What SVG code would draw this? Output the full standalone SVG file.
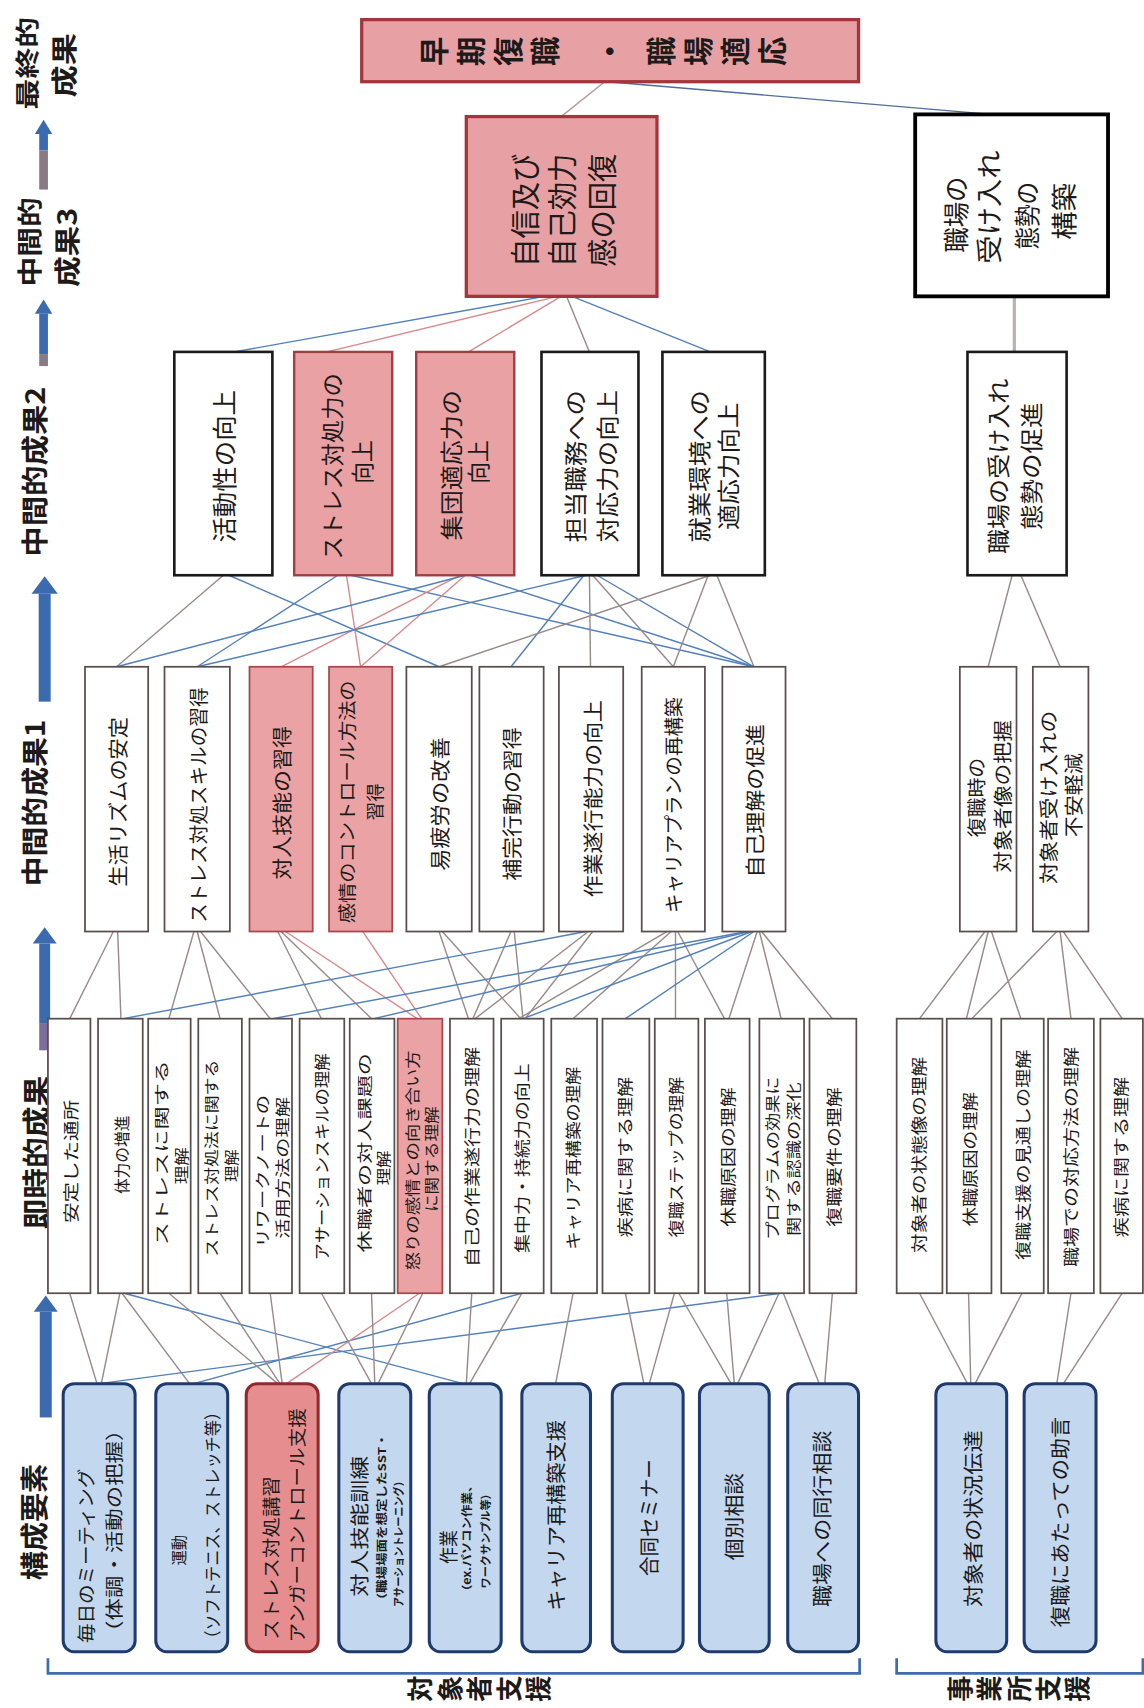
<svg xmlns="http://www.w3.org/2000/svg" width="1144" height="1708" viewBox="0 0 1144 1708">
<style>
.v{font-family:"Noto Sans CJK JP","Noto Sans CJK SC",sans-serif;text-anchor:middle;dominant-baseline:central;fill:#1e1a1a}
.b{font-weight:bold}
.vt{font-family:"Noto Sans CJK JP","Noto Sans CJK SC",sans-serif;writing-mode:vertical-rl;font-weight:bold;fill:#1e1a1a}
.w1{fill:#fff;stroke:#594d4d;stroke-width:1.6}
.w2{fill:#fff;stroke:#1a1a1a;stroke-width:2.4}
.w3{fill:#fff;stroke:#000;stroke-width:3.5}
.p1{fill:#eaa2a4;stroke:#a8464b;stroke-width:1.6}
.p2{fill:#e9a1a3;stroke:#a03f44;stroke-width:2.2}
.p3{fill:#e7a1a4;stroke:#a3353c;stroke-width:3}
.c{fill:#c3d8ef;stroke:#1f3b6e;stroke-width:2.8}
.cp{fill:#e68e8f;stroke:#8e2b2e;stroke-width:2.8}
#conn line{stroke-width:1.3;fill:none}
.g{stroke:#988a8a}
.bl{stroke:#5280ba}
.pk{stroke:#d8898d}
.ab{fill:#3c6aae}
.ag{fill:#8a7a82}
.br{fill:none;stroke:#3b6db0;stroke-width:2.5}
</style>
<rect width="1144" height="1708" fill="#fff"/>
<g transform="scale(1.0895)">
<g id="labels">
<text class="v b" font-size="22" textLength="85" lengthAdjust="spacingAndGlyphs" transform="translate(23 58) rotate(-90)">最終的</text>
<text class="v b" font-size="24" textLength="59" lengthAdjust="spacingAndGlyphs" transform="translate(58 60) rotate(-90)">成果</text>
<text class="v b" font-size="23" textLength="82" lengthAdjust="spacingAndGlyphs" transform="translate(26 222) rotate(-90)">中間的</text>
<text class="v b" font-size="24" textLength="73" lengthAdjust="spacingAndGlyphs" transform="translate(61 227) rotate(-90)">成果3</text>
<text class="v b" font-size="25" textLength="156" lengthAdjust="spacingAndGlyphs" transform="translate(30 433) rotate(-90)">中間的成果2</text>
<text class="v b" font-size="25" textLength="153" lengthAdjust="spacingAndGlyphs" transform="translate(30 737) rotate(-90)">中間的成果1</text>
<text class="v b" font-size="26" textLength="141" lengthAdjust="spacingAndGlyphs" transform="translate(32 1058) rotate(-90)">即時的成果</text>
<text class="v b" font-size="26" textLength="107" lengthAdjust="spacingAndGlyphs" transform="translate(30 1397) rotate(-90)">構成要素</text>
<text class="vt" font-size="24" letter-spacing="3" transform="translate(0 1550) rotate(-90)" x="0" y="374">対象者支援</text>
<text class="vt" font-size="24" letter-spacing="3" transform="translate(0 1550) rotate(-90)" x="0" y="869">事業所支援</text>
</g>
<g id="arrows">
<polygon class="ab" points="40,110 48,123 32,123"/><rect class="ab" x="36" y="123" width="8" height="15"/><rect class="ag" x="36" y="138" width="8" height="36"/>
<polygon class="ab" points="40,275 48,288 32,288"/><rect class="ab" x="36" y="288" width="8" height="37"/><rect class="ag" x="36" y="325" width="8" height="11"/>
<polygon class="ab" points="41,529 53,545 29,545"/><rect class="ab" x="35.5" y="545" width="11" height="99"/>
<polygon class="ab" points="41,851 52,866 30,866"/><rect class="ab" x="36" y="866" width="10" height="73"/><rect fill="#7d6d9c" x="36" y="939" width="10" height="25"/>
<polygon class="ab" points="42,1189 53,1204 31,1204"/><rect class="ab" x="36.5" y="1204" width="11" height="97"/>
<path class="br" d="M44,1522V1536H789V1522"/>
<path class="br" d="M823,1522V1536H1049V1522"/>
</g>
<g id="conn">
<line class="g" x1="555" y1="75" x2="515" y2="107" style="stroke:#b89a9a"/>
<line class="bl" x1="558" y1="75" x2="910" y2="105" style="stroke:#4f6e9a"/>
<line x1="931" y1="272" x2="931" y2="323" style="stroke:#bcb2b2;stroke-width:3"/>
<line class="bl" x1="500" y1="272" x2="215" y2="323"/>
<line class="pk" x1="512" y1="272" x2="300" y2="323"/>
<line class="pk" x1="515" y1="272" x2="430" y2="323"/>
<line class="g" x1="520" y1="272" x2="541" y2="323"/>
<line class="bl" x1="525" y1="272" x2="652" y2="323"/>
<line class="g" x1="205" y1="528" x2="107" y2="612"/>
<line class="bl" x1="210" y1="528" x2="403" y2="612"/>
<line class="bl" x1="310" y1="528" x2="181" y2="612"/>
<line class="pk" x1="318" y1="528" x2="331" y2="612"/>
<line class="bl" x1="322" y1="528" x2="692" y2="612"/>
<line class="pk" x1="422" y1="528" x2="258" y2="612"/>
<line class="pk" x1="427" y1="528" x2="331" y2="612"/>
<line class="bl" x1="432" y1="528" x2="692" y2="612"/>
<line class="bl" x1="536" y1="528" x2="469" y2="612"/>
<line class="g" x1="541" y1="528" x2="542" y2="612"/>
<line class="g" x1="544" y1="528" x2="618" y2="612"/>
<line class="bl" x1="548" y1="528" x2="692" y2="612"/>
<line class="g" x1="650" y1="528" x2="618" y2="612"/>
<line class="g" x1="658" y1="528" x2="692" y2="612"/>
<line class="g" x1="652" y1="528" x2="403" y2="612"/>
<line class="bl" x1="107" y1="612" x2="427" y2="528"/>
<line class="bl" x1="181" y1="612" x2="538" y2="528"/>
<line class="g" x1="929" y1="528" x2="907" y2="612"/>
<line class="g" x1="937" y1="528" x2="973" y2="612"/>
<line class="g" x1="104" y1="855" x2="64" y2="935"/>
<line class="g" x1="108" y1="855" x2="111" y2="935"/>
<line class="g" x1="178" y1="855" x2="155" y2="935"/>
<line class="g" x1="181" y1="855" x2="202" y2="935"/>
<line class="g" x1="184" y1="855" x2="248" y2="935"/>
<line class="g" x1="255" y1="855" x2="295" y2="935"/>
<line class="g" x1="258" y1="855" x2="341" y2="935"/>
<line class="pk" x1="262" y1="855" x2="383" y2="935"/>
<line class="pk" x1="333" y1="855" x2="387" y2="935"/>
<line class="g" x1="403" y1="855" x2="430" y2="935"/>
<line class="g" x1="406" y1="855" x2="478" y2="935"/>
<line class="g" x1="469" y1="855" x2="434" y2="935"/>
<line class="g" x1="472" y1="855" x2="480" y2="935"/>
<line class="g" x1="540" y1="855" x2="436" y2="935"/>
<line class="g" x1="544" y1="855" x2="482" y2="935"/>
<line class="bl" x1="538" y1="855" x2="113" y2="935"/>
<line class="g" x1="612" y1="855" x2="476" y2="935"/>
<line class="g" x1="616" y1="855" x2="526" y2="935"/>
<line class="g" x1="620" y1="855" x2="620" y2="935"/>
<line class="g" x1="622" y1="855" x2="665" y2="935"/>
<line class="bl" x1="686" y1="855" x2="250" y2="935"/>
<line class="bl" x1="688" y1="855" x2="343" y2="935"/>
<line class="bl" x1="690" y1="855" x2="480" y2="935"/>
<line class="bl" x1="692" y1="855" x2="574" y2="935"/>
<line class="g" x1="695" y1="855" x2="669" y2="935"/>
<line class="g" x1="697" y1="855" x2="717" y2="935"/>
<line class="g" x1="699" y1="855" x2="764" y2="935"/>
<line class="g" x1="904" y1="855" x2="844" y2="935"/>
<line class="g" x1="907" y1="855" x2="887" y2="935"/>
<line class="g" x1="910" y1="855" x2="937" y2="935"/>
<line class="g" x1="970" y1="855" x2="892" y2="935"/>
<line class="g" x1="973" y1="855" x2="983" y2="935"/>
<line class="g" x1="976" y1="855" x2="1030" y2="935"/>
<line class="g" x1="64" y1="1187" x2="89" y2="1270"/>
<line class="g" x1="110" y1="1187" x2="93" y2="1270"/>
<line class="g" x1="112" y1="1187" x2="174" y2="1270"/>
<line class="bl" x1="114" y1="1187" x2="425" y2="1270"/>
<line class="bl" x1="479" y1="1187" x2="178" y2="1270"/>
<line class="bl" x1="91" y1="1270" x2="717" y2="1187"/>
<line class="g" x1="155" y1="1187" x2="255" y2="1270"/>
<line class="g" x1="202" y1="1187" x2="257" y2="1270"/>
<line class="g" x1="248" y1="1187" x2="259" y2="1270"/>
<line class="pk" x1="385" y1="1187" x2="263" y2="1270"/>
<line class="g" x1="295" y1="1187" x2="341" y2="1270"/>
<line class="g" x1="341" y1="1187" x2="344" y2="1270"/>
<line class="g" x1="388" y1="1187" x2="347" y2="1270"/>
<line class="g" x1="433" y1="1187" x2="428" y2="1270"/>
<line class="g" x1="479" y1="1187" x2="431" y2="1270"/>
<line class="g" x1="526" y1="1187" x2="510" y2="1270"/>
<line class="g" x1="574" y1="1187" x2="591" y2="1270"/>
<line class="g" x1="619" y1="1187" x2="596" y2="1270"/>
<line class="g" x1="623" y1="1187" x2="671" y2="1270"/>
<line class="g" x1="667" y1="1187" x2="674" y2="1270"/>
<line class="g" x1="715" y1="1187" x2="677" y2="1270"/>
<line class="g" x1="719" y1="1187" x2="752" y2="1270"/>
<line class="g" x1="764" y1="1187" x2="757" y2="1270"/>
<line class="g" x1="844" y1="1187" x2="888" y2="1270"/>
<line class="g" x1="889" y1="1187" x2="891" y2="1270"/>
<line class="g" x1="938" y1="1187" x2="895" y2="1270"/>
<line class="g" x1="983" y1="1187" x2="970" y2="1270"/>
<line class="g" x1="1030" y1="1187" x2="976" y2="1270"/>
</g>
<g id="final"><rect class="p3" x="332" y="18" width="456" height="57"/>
<text class="vt" font-size="27" letter-spacing="7" transform="translate(0 47) rotate(-90)" x="0"><tspan x="0" y="385">早期復職</tspan><tspan x="0" y="546">・</tspan><tspan x="0" y="593">職場適応</tspan></text></g>
<g id="t1"><rect class="p3" x="428" y="107" width="175" height="165"/>
<text class="v" font-size="27" textLength="104" lengthAdjust="spacingAndGlyphs" transform="translate(480 193) rotate(-90)">自信及び</text>
<text class="v" font-size="27" textLength="104" lengthAdjust="spacingAndGlyphs" transform="translate(514 193) rotate(-90)">自己効力</text>
<text class="v" font-size="27" textLength="104" lengthAdjust="spacingAndGlyphs" transform="translate(551 193) rotate(-90)">感の回復</text></g>
<g id="t2"><rect class="w3" x="840" y="105" width="177" height="167"/>
<text class="v" font-size="24" textLength="70" lengthAdjust="spacingAndGlyphs" transform="translate(877 197) rotate(-90)">職場の</text>
<text class="v" font-size="24" textLength="104" lengthAdjust="spacingAndGlyphs" transform="translate(907 190) rotate(-90)">受け入れ</text>
<text class="v" font-size="24" textLength="62" lengthAdjust="spacingAndGlyphs" transform="translate(942 198) rotate(-90)">態勢の</text>
<text class="v" font-size="24" textLength="52" lengthAdjust="spacingAndGlyphs" transform="translate(976 194) rotate(-90)">構築</text></g>
<g id="n1"><rect class="w2" x="160" y="323" width="90" height="205"/>
<text class="v" font-size="23" textLength="140" lengthAdjust="spacingAndGlyphs" transform="translate(205 428) rotate(-90)">活動性の向上</text></g>
<g id="n2"><rect class="p2" x="270" y="323" width="90" height="205"/>
<text class="v" font-size="21" textLength="171" lengthAdjust="spacingAndGlyphs" transform="translate(304 428) rotate(-90)">ストレス対処力の</text>
<text class="v" font-size="21" textLength="40" lengthAdjust="spacingAndGlyphs" transform="translate(331 424) rotate(-90)">向上</text></g>
<g id="n3"><rect class="p2" x="382" y="323" width="90" height="205"/>
<text class="v" font-size="21" textLength="138" lengthAdjust="spacingAndGlyphs" transform="translate(413 427) rotate(-90)">集団適応力の</text>
<text class="v" font-size="21" textLength="40" lengthAdjust="spacingAndGlyphs" transform="translate(438 424) rotate(-90)">向上</text></g>
<g id="n4"><rect class="w2" x="497" y="323" width="89" height="205"/>
<text class="v" font-size="21" textLength="140" lengthAdjust="spacingAndGlyphs" transform="translate(527 428) rotate(-90)">担当職務への</text>
<text class="v" font-size="21" textLength="140" lengthAdjust="spacingAndGlyphs" transform="translate(556 428) rotate(-90)">対応力の向上</text></g>
<g id="n5"><rect class="w2" x="608" y="323" width="94" height="205"/>
<text class="v" font-size="21" textLength="140" lengthAdjust="spacingAndGlyphs" transform="translate(641 428) rotate(-90)">就業環境への</text>
<text class="v" font-size="21" textLength="117" lengthAdjust="spacingAndGlyphs" transform="translate(667 428) rotate(-90)">適応力向上</text></g>
<g id="n6"><rect class="w2" x="888" y="323" width="91" height="205"/>
<text class="v" font-size="21" textLength="161" lengthAdjust="spacingAndGlyphs" transform="translate(915 428) rotate(-90)">職場の受け入れ</text>
<text class="v" font-size="21" textLength="117" lengthAdjust="spacingAndGlyphs" transform="translate(945 428) rotate(-90)">態勢の促進</text></g>
<g id="m1"><rect class="w1" x="78" y="612" width="58" height="243"/>
<text class="v" font-size="19" textLength="156" lengthAdjust="spacingAndGlyphs" transform="translate(107 736) rotate(-90)">生活リズムの安定</text></g>
<g id="m2"><rect class="w1" x="151" y="612" width="60" height="243"/>
<text class="v" font-size="18" textLength="216" lengthAdjust="spacingAndGlyphs" transform="translate(181 739) rotate(-90)">ストレス対処スキルの習得</text></g>
<g id="m3"><rect class="p1" x="229" y="612" width="58" height="243"/>
<text class="v" font-size="19" textLength="141" lengthAdjust="spacingAndGlyphs" transform="translate(258 737) rotate(-90)">対人技能の習得</text></g>
<g id="m4"><rect class="p1" x="302" y="612" width="58" height="243"/>
<text class="v" font-size="17" textLength="223" lengthAdjust="spacingAndGlyphs" transform="translate(318 736) rotate(-90)">感情のコントロール方法の</text>
<text class="v" font-size="17" textLength="34" lengthAdjust="spacingAndGlyphs" transform="translate(343 736) rotate(-90)">習得</text></g>
<g id="m5"><rect class="w1" x="373" y="612" width="60" height="243"/>
<text class="v" font-size="19" textLength="123" lengthAdjust="spacingAndGlyphs" transform="translate(403 738) rotate(-90)">易疲労の改善</text></g>
<g id="m6"><rect class="w1" x="440" y="612" width="59" height="243"/>
<text class="v" font-size="19" textLength="141" lengthAdjust="spacingAndGlyphs" transform="translate(469 738) rotate(-90)">補完行動の習得</text></g>
<g id="m7"><rect class="w1" x="513" y="612" width="59" height="243"/>
<text class="v" font-size="19" textLength="181" lengthAdjust="spacingAndGlyphs" transform="translate(543 733) rotate(-90)">作業遂行能力の向上</text></g>
<g id="m8"><rect class="w1" x="589" y="612" width="58" height="243"/>
<text class="v" font-size="18" textLength="198" lengthAdjust="spacingAndGlyphs" transform="translate(617 739) rotate(-90)">キャリアプランの再構築</text></g>
<g id="m9"><rect class="w1" x="663" y="612" width="58" height="243"/>
<text class="v" font-size="19" textLength="141" lengthAdjust="spacingAndGlyphs" transform="translate(692 735) rotate(-90)">自己理解の促進</text></g>
<g id="m10"><rect class="w1" x="881" y="612" width="52" height="243"/>
<text class="v" font-size="18" textLength="73" lengthAdjust="spacingAndGlyphs" transform="translate(895 732) rotate(-90)">復職時の</text>
<text class="v" font-size="18" textLength="140" lengthAdjust="spacingAndGlyphs" transform="translate(919 731) rotate(-90)">対象者像の把握</text></g>
<g id="m11"><rect class="w1" x="948" y="612" width="51" height="243"/>
<text class="v" font-size="18" textLength="159" lengthAdjust="spacingAndGlyphs" transform="translate(961 732) rotate(-90)">対象者受け入れの</text>
<text class="v" font-size="18" textLength="77" lengthAdjust="spacingAndGlyphs" transform="translate(984 730) rotate(-90)">不安軽減</text></g>
<g id="i1"><rect class="w1" x="44" y="935" width="39" height="252"/>
<text class="v" font-size="15" textLength="113" lengthAdjust="spacingAndGlyphs" transform="translate(64 1066) rotate(-90)">安定した通所</text></g>
<g id="i2"><rect class="w1" x="90" y="935" width="41" height="252"/>
<text class="v" font-size="15" textLength="72" lengthAdjust="spacingAndGlyphs" transform="translate(111 1060) rotate(-90)">体力の増進</text></g>
<g id="i3"><rect class="w1" x="136" y="935" width="39" height="252"/>
<text class="v" font-size="14" textLength="170" lengthAdjust="spacingAndGlyphs" transform="translate(147 1058) rotate(-90)">ストレスに関する</text>
<text class="v" font-size="14" textLength="34" lengthAdjust="spacingAndGlyphs" transform="translate(165 1070) rotate(-90)">理解</text></g>
<g id="i4"><rect class="w1" x="182" y="935" width="40" height="252"/>
<text class="v" font-size="14" textLength="181" lengthAdjust="spacingAndGlyphs" transform="translate(193 1063) rotate(-90)">ストレス対処法に関する</text>
<text class="v" font-size="14" textLength="30" lengthAdjust="spacingAndGlyphs" transform="translate(211 1070) rotate(-90)">理解</text></g>
<g id="i5"><rect class="w1" x="229" y="935" width="39" height="252"/>
<text class="v" font-size="14" textLength="140" lengthAdjust="spacingAndGlyphs" transform="translate(240 1075) rotate(-90)">リワークノートの</text>
<text class="v" font-size="14" textLength="130" lengthAdjust="spacingAndGlyphs" transform="translate(258 1072) rotate(-90)">活用方法の理解</text></g>
<g id="i6"><rect class="w1" x="275" y="935" width="41" height="252"/>
<text class="v" font-size="15" textLength="190" lengthAdjust="spacingAndGlyphs" transform="translate(295 1062) rotate(-90)">アサーションスキルの理解</text></g>
<g id="i7"><rect class="w1" x="321" y="935" width="41" height="252"/>
<text class="v" font-size="14" textLength="183" lengthAdjust="spacingAndGlyphs" transform="translate(333 1058) rotate(-90)">休職者の対人課題の</text>
<text class="v" font-size="14" textLength="32" lengthAdjust="spacingAndGlyphs" transform="translate(351 1072) rotate(-90)">理解</text></g>
<g id="i8"><rect class="p1" x="365" y="935" width="41" height="252"/>
<text class="v" font-size="14" textLength="202" lengthAdjust="spacingAndGlyphs" transform="translate(377 1065) rotate(-90)">怒りの感情との向き合い方</text>
<text class="v" font-size="14" textLength="97" lengthAdjust="spacingAndGlyphs" transform="translate(395 1064) rotate(-90)">に関する理解</text></g>
<g id="i9"><rect class="w1" x="413" y="935" width="40" height="252"/>
<text class="v" font-size="15" textLength="202" lengthAdjust="spacingAndGlyphs" transform="translate(432 1062) rotate(-90)">自己の作業遂行力の理解</text></g>
<g id="i10"><rect class="w1" x="460" y="935" width="39" height="252"/>
<text class="v" font-size="15" textLength="174" lengthAdjust="spacingAndGlyphs" transform="translate(478 1063) rotate(-90)">集中力・持続力の向上</text></g>
<g id="i11"><rect class="w1" x="506" y="935" width="42" height="252"/>
<text class="v" font-size="15" textLength="168" lengthAdjust="spacingAndGlyphs" transform="translate(525 1063) rotate(-90)">キャリア再構築の理解</text></g>
<g id="i12"><rect class="w1" x="553" y="935" width="43" height="252"/>
<text class="v" font-size="15" textLength="147" lengthAdjust="spacingAndGlyphs" transform="translate(573 1062) rotate(-90)">疾病に関する理解</text></g>
<g id="i13"><rect class="w1" x="601" y="935" width="40" height="252"/>
<text class="v" font-size="15" textLength="147" lengthAdjust="spacingAndGlyphs" transform="translate(620 1062) rotate(-90)">復職ステップの理解</text></g>
<g id="i14"><rect class="w1" x="647" y="935" width="41" height="252"/>
<text class="v" font-size="15" textLength="128" lengthAdjust="spacingAndGlyphs" transform="translate(667 1062) rotate(-90)">休職原因の理解</text></g>
<g id="i15"><rect class="w1" x="697" y="935" width="41" height="252"/>
<text class="v" font-size="14" textLength="150" lengthAdjust="spacingAndGlyphs" transform="translate(708 1063) rotate(-90)">プログラムの効果に</text>
<text class="v" font-size="14" textLength="141" lengthAdjust="spacingAndGlyphs" transform="translate(727 1064) rotate(-90)">関する認識の深化</text></g>
<g id="i16"><rect class="w1" x="743" y="935" width="43" height="252"/>
<text class="v" font-size="15" textLength="128" lengthAdjust="spacingAndGlyphs" transform="translate(765 1062) rotate(-90)">復職要件の理解</text></g>
<g id="i17"><rect class="w1" x="823" y="935" width="42" height="252"/>
<text class="v" font-size="15" textLength="180" lengthAdjust="spacingAndGlyphs" transform="translate(843 1060) rotate(-90)">対象者の状態像の理解</text></g>
<g id="i18"><rect class="w1" x="869" y="935" width="41" height="252"/>
<text class="v" font-size="15" textLength="123" lengthAdjust="spacingAndGlyphs" transform="translate(889 1064) rotate(-90)">休職原因の理解</text></g>
<g id="i19"><rect class="w1" x="919" y="935" width="39" height="252"/>
<text class="v" font-size="15" textLength="193" lengthAdjust="spacingAndGlyphs" transform="translate(938 1060) rotate(-90)">復職支援の見通しの理解</text></g>
<g id="i20"><rect class="w1" x="962" y="935" width="42" height="252"/>
<text class="v" font-size="15" textLength="202" lengthAdjust="spacingAndGlyphs" transform="translate(982 1062) rotate(-90)">職場での対応方法の理解</text></g>
<g id="i21"><rect class="w1" x="1010" y="935" width="39" height="252"/>
<text class="v" font-size="15" textLength="147" lengthAdjust="spacingAndGlyphs" transform="translate(1028 1062) rotate(-90)">疾病に関する理解</text></g>
<g id="b1"><rect class="c" x="58" y="1270" width="66" height="246" rx="10"/>
<text class="v" font-size="17" textLength="160" lengthAdjust="spacingAndGlyphs" transform="translate(78 1428) rotate(-90)">毎日のミーティング</text>
<text class="v" font-size="17" textLength="206" lengthAdjust="spacingAndGlyphs" transform="translate(104 1405) rotate(-90)">（体調・活動の把握）</text></g>
<g id="b2"><rect class="c" x="143" y="1270" width="66" height="246" rx="10"/>
<text class="v" font-size="15" textLength="28" lengthAdjust="spacingAndGlyphs" transform="translate(163 1423) rotate(-90)">運動</text>
<text class="v" font-size="16" textLength="223" lengthAdjust="spacingAndGlyphs" transform="translate(194 1400) rotate(-90)">（ソフトテニス、ストレッチ等）</text></g>
<g id="b3"><rect class="cp" x="226" y="1270" width="66" height="246" rx="10"/>
<text class="v" font-size="17" textLength="150" lengthAdjust="spacingAndGlyphs" transform="translate(248 1430) rotate(-90)">ストレス対処講習</text>
<text class="v" font-size="17" textLength="215" lengthAdjust="spacingAndGlyphs" transform="translate(272 1400) rotate(-90)">アンガーコントロール支援</text></g>
<g id="b4"><rect class="c" x="311" y="1270" width="66" height="246" rx="10"/>
<text class="v" font-size="18" textLength="129" lengthAdjust="spacingAndGlyphs" transform="translate(329 1401) rotate(-90)">対人技能訓練</text>
<text class="v b" font-size="10" textLength="159" lengthAdjust="spacingAndGlyphs" transform="translate(350 1395) rotate(-90)">（職場場面を想定したSST・</text>
<text class="v b" font-size="10" textLength="120" lengthAdjust="spacingAndGlyphs" transform="translate(365 1415) rotate(-90)">アサーショントレーニング）</text></g>
<g id="b5"><rect class="c" x="394" y="1270" width="66" height="246" rx="10"/>
<text class="v" font-size="18" textLength="31" lengthAdjust="spacingAndGlyphs" transform="translate(411 1420) rotate(-90)">作業</text>
<text class="v b" font-size="10" textLength="108" lengthAdjust="spacingAndGlyphs" transform="translate(428 1412) rotate(-90)">（ex.パソコン作業、</text>
<text class="v b" font-size="10" textLength="92" lengthAdjust="spacingAndGlyphs" transform="translate(445 1412) rotate(-90)">ワークサンプル等）</text></g>
<g id="b6"><rect class="c" x="479" y="1270" width="63" height="246" rx="10"/>
<text class="v" font-size="19" textLength="175" lengthAdjust="spacingAndGlyphs" transform="translate(509 1391) rotate(-90)">キャリア再構築支援</text></g>
<g id="b7"><rect class="c" x="562" y="1270" width="65" height="246" rx="10"/>
<text class="v" font-size="19" textLength="107" lengthAdjust="spacingAndGlyphs" transform="translate(595 1393) rotate(-90)">合同セミナー</text></g>
<g id="b8"><rect class="c" x="642" y="1270" width="64" height="246" rx="10"/>
<text class="v" font-size="19" textLength="80" lengthAdjust="spacingAndGlyphs" transform="translate(673 1392) rotate(-90)">個別相談</text></g>
<g id="b9"><rect class="c" x="723" y="1270" width="65" height="246" rx="10"/>
<text class="v" font-size="19" textLength="162" lengthAdjust="spacingAndGlyphs" transform="translate(754 1394) rotate(-90)">職場への同行相談</text></g>
<g id="b10"><rect class="c" x="859" y="1270" width="65" height="246" rx="10"/>
<text class="v" font-size="19" textLength="162" lengthAdjust="spacingAndGlyphs" transform="translate(892 1394) rotate(-90)">対象者の状況伝達</text></g>
<g id="b11"><rect class="c" x="940" y="1270" width="66" height="246" rx="10"/>
<text class="v" font-size="19" textLength="193" lengthAdjust="spacingAndGlyphs" transform="translate(972 1397) rotate(-90)">復職にあたっての助言</text></g>
</g>
</svg>
